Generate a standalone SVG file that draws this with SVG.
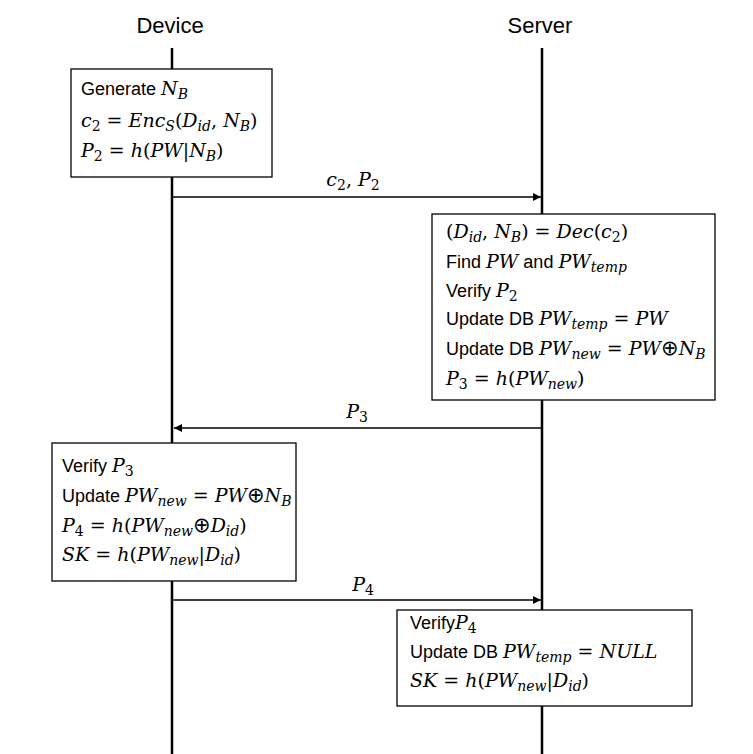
<svg xmlns="http://www.w3.org/2000/svg" width="753" height="754" viewBox="0 0 753 754">
<style>
.hdr{font-family:"Liberation Sans",Arial,sans-serif;font-size:22px;fill:#000}
.t{font-family:"Liberation Sans",Arial,sans-serif;font-size:18px;fill:#000}
.m{font-family:"DejaVu Serif","Liberation Serif",serif;font-size:19px;font-style:italic}
.u{font-family:"DejaVu Serif","Liberation Serif",serif;font-size:19px;font-style:normal}
.s{font-size:14px}
.o{font-family:"DejaVu Sans",sans-serif;font-size:21px;font-style:normal}
.life{stroke:#000;stroke-width:2.5;fill:none}
.box{fill:#fff;stroke:#000;stroke-width:1.3}
.msg{stroke:#000;stroke-width:1.3;fill:none}
</style>
<defs>
<marker id="ah" viewBox="0 0 10 10" refX="10" refY="5" markerWidth="8" markerHeight="8" markerUnits="userSpaceOnUse" orient="auto">
<path d="M0,0 L10,5 L0,10 z" fill="#000"/>
</marker>
</defs>
<rect width="753" height="754" fill="#fff"/>

<g id="device-lifeline">
<text class="hdr" x="170" y="33" text-anchor="middle">Device</text>
<line class="life" x1="172" y1="48" x2="172" y2="754"/>
</g>
<g id="server-lifeline">
<text class="hdr" x="540" y="33" text-anchor="middle">Server</text>
<line class="life" x1="542" y1="48" x2="542" y2="754"/>
</g>

<g id="connectors">
<line class="msg" x1="173" y1="197" x2="541" y2="197" marker-end="url(#ah)"/>
<text class="m" x="353" y="186" text-anchor="middle">c<tspan class="s u" dy="4">2</tspan><tspan class="u" dy="-4">, </tspan>P<tspan class="s u" dy="4">2</tspan></text>
<line class="msg" x1="541" y1="428" x2="174" y2="428" marker-end="url(#ah)"/>
<text class="m" x="357" y="418" text-anchor="middle">P<tspan class="s u" dy="4">3</tspan></text>
<line class="msg" x1="173" y1="600" x2="541" y2="600" marker-end="url(#ah)"/>
<text class="m" x="363" y="591" text-anchor="middle">P<tspan class="s u" dy="4">4</tspan></text>
</g>

<g id="device-step1">
<rect class="box" x="71" y="69" width="201" height="108"/>
<text class="t" x="81" y="95">Generate <tspan class="m">N</tspan><tspan class="m s" dy="4">B</tspan></text>
<text class="m" x="81" y="127">c<tspan class="u s" dy="4">2</tspan><tspan class="u" dy="-4"> = </tspan>Enc<tspan class="s" dy="4">S</tspan><tspan class="u" dy="-4">(</tspan>D<tspan class="s" dy="4">id</tspan><tspan class="u" dy="-4">, </tspan>N<tspan class="s" dy="4">B</tspan><tspan class="u" dy="-4">)</tspan></text>
<text class="m" x="81" y="157">P<tspan class="u s" dy="4">2</tspan><tspan class="u" dy="-4"> = </tspan>h<tspan class="u">(</tspan>PW<tspan class="u">|</tspan>N<tspan class="s" dy="4">B</tspan><tspan class="u" dy="-4">)</tspan></text>
</g>

<g id="server-step1">
<rect class="box" x="432" y="214" width="283" height="186"/>
<text class="m" x="446" y="238"><tspan class="u">(</tspan>D<tspan class="s" dy="4">id</tspan><tspan class="u" dy="-4">, </tspan>N<tspan class="s" dy="4">B</tspan><tspan class="u" dy="-4">) = </tspan>Dec<tspan class="u">(</tspan>c<tspan class="u s" dy="4">2</tspan><tspan class="u" dy="-4">)</tspan></text>
<text class="t" x="446" y="268">Find <tspan class="m">PW</tspan> and <tspan class="m">PW</tspan><tspan class="m s" dy="4">temp</tspan></text>
<text class="t" x="446" y="297">Verify <tspan class="m">P</tspan><tspan class="u s" dy="4">2</tspan></text>
<text class="t" x="446" y="325">Update DB <tspan class="m">PW</tspan><tspan class="m s" dy="4">temp</tspan><tspan class="u" dy="-4"> = </tspan><tspan class="m">PW</tspan></text>
<text class="t" x="446" y="355">Update DB <tspan class="m">PW</tspan><tspan class="m s" dy="4">new</tspan><tspan class="u" dy="-4"> = </tspan><tspan class="m">PW</tspan><tspan class="o">⊕</tspan><tspan class="m">N</tspan><tspan class="m s" dy="4">B</tspan></text>
<text class="m" x="446" y="385">P<tspan class="u s" dy="4">3</tspan><tspan class="u" dy="-4"> = </tspan>h<tspan class="u">(</tspan>PW<tspan class="s" dy="4">new</tspan><tspan class="u" dy="-4">)</tspan></text>
</g>

<g id="device-step2">
<rect class="box" x="52" y="443" width="244" height="138"/>
<text class="t" x="62" y="472">Verify <tspan class="m">P</tspan><tspan class="u s" dy="4">3</tspan></text>
<text class="t" x="62" y="502">Update <tspan class="m">PW</tspan><tspan class="m s" dy="4">new</tspan><tspan class="u" dy="-4"> = </tspan><tspan class="m">PW</tspan><tspan class="o">⊕</tspan><tspan class="m">N</tspan><tspan class="m s" dy="4">B</tspan></text>
<text class="m" x="62" y="532">P<tspan class="u s" dy="4">4</tspan><tspan class="u" dy="-4"> = </tspan>h<tspan class="u">(</tspan>PW<tspan class="s" dy="4">new</tspan><tspan class="o" dy="-4">⊕</tspan>D<tspan class="s" dy="4">id</tspan><tspan class="u" dy="-4">)</tspan></text>
<text class="m" x="62" y="561">SK<tspan class="u"> = </tspan>h<tspan class="u">(</tspan>PW<tspan class="s" dy="4">new</tspan><tspan class="u" dy="-4">|</tspan>D<tspan class="s" dy="4">id</tspan><tspan class="u" dy="-4">)</tspan></text>
</g>

<g id="server-step2">
<rect class="box" x="397" y="610" width="295" height="96"/>
<text class="t" x="410" y="629">Verify<tspan class="m">P</tspan><tspan class="u s" dy="4">4</tspan></text>
<text class="t" x="410" y="658">Update DB <tspan class="m">PW</tspan><tspan class="m s" dy="4">temp</tspan><tspan class="u" dy="-4"> = </tspan><tspan class="m">NULL</tspan></text>
<text class="m" x="410" y="687">SK<tspan class="u"> = </tspan>h<tspan class="u">(</tspan>PW<tspan class="s" dy="4">new</tspan><tspan class="u" dy="-4">|</tspan>D<tspan class="s" dy="4">id</tspan><tspan class="u" dy="-4">)</tspan></text>
</g>
</svg>
